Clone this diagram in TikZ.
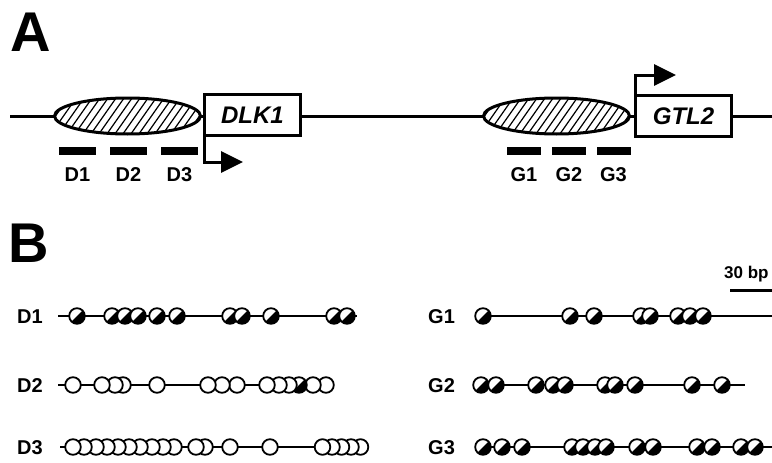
\documentclass[tikz,border=0pt]{standalone}
\usepackage{fontspec}
\setmainfont{Liberation Sans}
\usetikzlibrary{arrows.meta,positioning,shapes.geometric}

% CpG sites: open = unmethylated, half filled = methylated
\newcommand\cpgopen[2]{\draw[strand, fill=white] (#1,#2) circle (7.8);}
\newcommand\cpgmeth[2]{\draw[strand, fill=white] (#1,#2) circle (7.8);
  \fill (#1,#2) ++(-45:7.8) arc[start angle=-45, end angle=135, radius=7.8] -- cycle;}

\begin{document}
\begin{tikzpicture}[x=1pt, y=-1pt,
    dna/.style={line width=3pt},
    strand/.style={line width=1.8pt},
    island/.style={ellipse, draw, line width=3pt, fill=white, inner sep=0pt,
      minimum width=146pt, minimum height=36pt,
      path picture={\foreach \k in {-88,-80,...,88}
        \draw[line width=1.2pt]
          ([xshift=\k pt-14pt, yshift=-20pt]path picture bounding box.center) --
          ([xshift=\k pt+14pt, yshift=20pt]path picture bounding box.center);}},
    gene/.style={draw, line width=3pt, fill=white, inner sep=0pt,
      minimum width=96pt, minimum height=41pt,
      font=\fontsize{24}{28}\selectfont\bfseries\itshape},
    probe/.style={fill=black, inner sep=0pt, minimum width=37pt, minimum height=8pt},
    lbl/.style={font=\fontsize{20}{24}\selectfont\bfseries, inner sep=0pt},
    panel/.style={font=\fontsize{56}{60}\selectfont\bfseries, inner sep=0pt, anchor=base west},
    tss/.style={line width=3pt, -{Triangle[length=22pt, width=21pt]}}]

  \useasboundingbox (0,0) rectangle (772,463);

  % panel letters
  \node[panel] (pa) at (10,51) {A};
  \node[panel] (pb) at (8,262) {B};

  % the locus
  \coordinate (lend) at (10,116);
  \coordinate (rend) at (780,116);
  \draw[dna] (lend) -- (rend);

  \node[island] (dlkisl) at (127.5,116) {};
  \node[gene] (dlk) at (252.5,115) {DLK1};
  \node[island] (gtlisl) at (556.5,116) {};
  \node[gene] (gtl) at (683.5,116) {GTL2};

  % transcription starts
  \coordinate (dlktip) at (243,162);
  \coordinate (gtltip) at (676,75);
  \draw[tss] ([xshift=1.5pt]dlk.south west) |- (dlktip);
  \draw[tss] ([xshift=1.5pt]gtl.north west) |- (gtltip);

  % amplified regions
  \node[probe] (d1) at (77.5,151) {};
  \node[probe] (d2) at (128.5,151) {};
  \node[probe] (d3) at (179.5,151) {};
  \node[probe, minimum width=34pt] (g1) at (524,151) {};
  \node[probe, minimum width=34pt] (g2) at (569,151) {};
  \node[probe, minimum width=34pt] (g3) at (613.5,151) {};
  \foreach \p/\t in {d1/D1, d2/D2, d3/D3, g1/G1, g2/G2, g3/G3}
    \node[lbl, below=12pt of \p] (\p lbl) {\t};

  % scale bar
  \node[lbl, font=\fontsize{17}{20}\selectfont\bfseries, anchor=base west] (scl) at (724,278) {30 bp};
  \coordinate (sbl) at (730,290);
  \coordinate (sbr) at (780,290);
  \draw[dna] (sbl) -- (sbr);

  % D1
  \node[lbl, anchor=base west] (rd1) at (17,323) {D1};
  \coordinate (d1a) at (58,316);
  \coordinate (d1b) at (357,316);
  \draw[strand] (d1a) -- (d1b);
  \foreach \x in {77,112,125,138,157,177,230,242,271,334,347}
    {\cpgmeth{\x}{316}}

  % D2
  \node[lbl, anchor=base west] (rd2) at (17,392) {D2};
  \coordinate (d2a) at (58,385);
  \coordinate (d2b) at (326,385);
  \draw[strand] (d2a) -- (d2b);
  \foreach \x in {326,313}
    {\cpgopen{\x}{385}}
  \cpgmeth{299}{385}
  \foreach \x in {289,279,267,237,222,208,157,123,115,102,73}
    {\cpgopen{\x}{385}}

  % D3
  \node[lbl, anchor=base west] (rd3) at (17,454) {D3};
  \coordinate (d3a) at (60,447);
  \coordinate (d3b) at (360,447);
  \draw[strand] (d3a) -- (d3b);
  \foreach \x in {360.5,351,341.5,332,322.5,270,230,205,196,174,163,152,140,129,118,107,96,84,73}
    {\cpgopen{\x}{447}}

  % G1
  \node[lbl, anchor=base west] (rg1) at (428,323) {G1};
  \coordinate (g1a) at (483,316);
  \coordinate (g1b) at (780,316);
  \draw[strand] (g1a) -- (g1b);
  \foreach \x in {483,570,594,641,650,678,690,703}
    {\cpgmeth{\x}{316}}

  % G2
  \node[lbl, anchor=base west] (rg2) at (428,392) {G2};
  \coordinate (g2a) at (481,385);
  \coordinate (g2b) at (745,385);
  \draw[strand] (g2a) -- (g2b);
  \foreach \x in {481,496,536,553,565,605,615,635,692,722}
    {\cpgmeth{\x}{385}}

  % G3
  \node[lbl, anchor=base west] (rg3) at (428,454) {G3};
  \coordinate (g3a) at (483,447);
  \coordinate (g3b) at (780,447);
  \draw[strand] (g3a) -- (g3b);
  \foreach \x in {483,502,522,572,583,595,606,637,653,697,712,741,755}
    {\cpgmeth{\x}{447}}
\end{tikzpicture}
\end{document}
